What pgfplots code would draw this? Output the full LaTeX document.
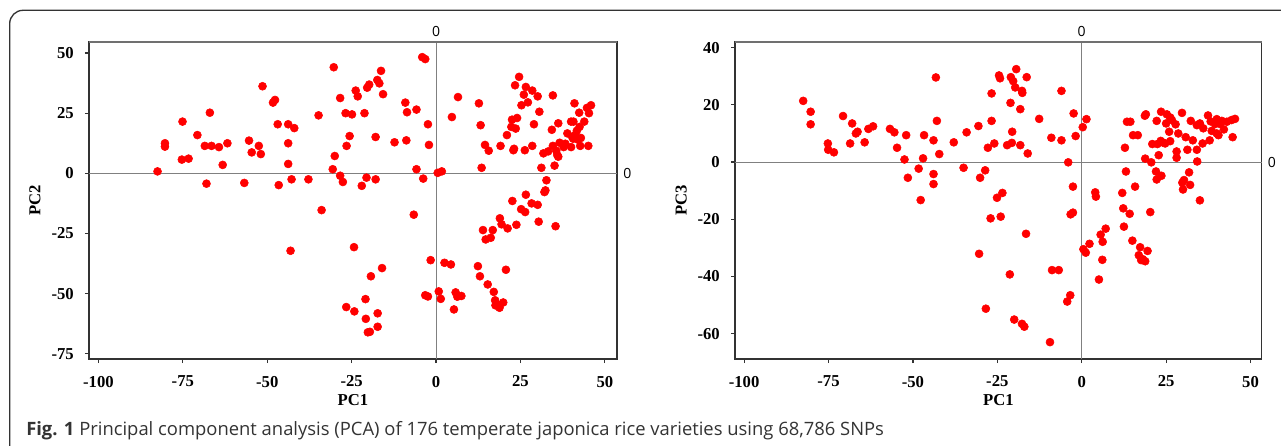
\documentclass[border=0pt]{standalone}
\usepackage{fontspec}
\setmainfont{Liberation Serif}
\newfontfamily\capfont{Open Sans}
\usepackage{pgfplots}
\pgfplotsset{compat=1.18}
\definecolor{dotred}{HTML}{FF0000}
\definecolor{zeroline}{HTML}{808080}
\definecolor{framecol}{HTML}{333333}

\pgfplotsset{
  pcastyle/.style={
    anchor=south west, scale only axis,
    width=396pt, height=237.75pt,
    clip=false,
    xtick={-100,-75,-50,-25,0,25,50},
    xticklabels={-100,-75,-50,-25,0,25,50},
    xtick pos=left, ytick pos=left,
    tick align=outside, major tick length=3pt,
    axis line style={framecol, line width=0.9pt},
    tick style={framecol, line width=0.9pt},
    ticklabel style={font=\bfseries\fontsize{12.5}{12.5}\selectfont, inner sep=0pt},
    xticklabel style={anchor=north, yshift=-9.5pt},
    yticklabel style={anchor=east, xshift=-8.25pt},
    label style={font=\bfseries\fontsize{12.5}{12.5}\selectfont},
    xlabel style={at={(axis description cs:0.5,-0.1293)}, anchor=center},
    ylabel style={at={(axis description cs:-0.1023,0.5)}, anchor=center},
  },
  dots/.style={only marks, mark=*, mark size=3pt, color=dotred, mark options={fill=dotred, draw=dotred}},
}

\begin{document}
\begin{tikzpicture}[x=0.75pt, y=0.75pt]
\path[use as bounding box] (0,0) rectangle (1281,446);
\draw[framecol, line width=1pt, rounded corners=10pt] (9.7,-10) -- (9.7,435.7) -- (1300,435.7);

% PC1 vs PC2
\begin{axis}[pcastyle, at={(66.75pt,65.25pt)},
  xmin=-102.8, xmax=53.6, ymin=-77.2, ymax=54.6,
  ytick={-75,-50,-25,0,25,50},
  yticklabels={-75,-50,-25,0,25,50},
  xlabel={PC1}, ylabel={PC2}]
\draw[zeroline, line width=0.8pt] (axis cs:0,-77.2) -- (axis cs:0,54.6);
\draw[zeroline, line width=0.8pt] (axis cs:-102.8,0) -- (axis cs:53.6,0);
\draw[framecol!70, line width=0.9pt] (axis cs:-102.8,54.6) -- (axis cs:53.6,54.6);
\node[anchor=base, inner sep=0pt, yshift=3.75pt, font=\capfont\fontsize{10.5}{10.5}\selectfont] at (axis cs:0,54.6) {0};
\node[anchor=west, inner sep=0pt, xshift=4.5pt, font=\capfont\fontsize{10.5}{10.5}\selectfont] at (axis cs:53.6,0) {0};
\addplot[dots] coordinates {
(-82.5,0.8) (-80.3,12.5) (-80.3,11.1) (-75.1,21.5) (-75.3,5.7) (-73.3,6.1)
(-70.7,15.9) (-67.0,25.2) (-68.5,11.4) (-66.5,11.4) (-64.3,10.9) (-61.8,12.5)
(-63.2,3.5) (-68.0,-4.3) (-56.8,-4.0) (-55.4,13.6) (-54.6,8.7) (-52.5,11.4)
(-51.9,8.0) (-51.4,36.2) (-48.3,29.4) (-47.7,30.5) (-46.9,20.4) (-46.6,-4.9)
(-43.8,20.4) (-42.0,18.8) (-43.8,12.5) (-43.8,3.9) (-42.8,-2.5) (-37.8,-2.5)
(-34.8,24.1) (-33.9,-15.3) (-43.1,-32.2) (-30.3,44.1) (-28.4,31.3) (-26.8,25.0)
(-24.9,24.5) (-23.8,34.4) (-23.2,32.0) (-21.2,25.0) (-20.4,35.6) (-19.8,36.9)
(-17.4,38.8) (-16.8,37.4) (-16.3,42.6) (-15.7,32.9) (-25.6,15.5) (-26.5,11.4)
(-30.0,7.2) (-30.6,1.7) (-28.4,-1.0) (-27.6,-3.6) (-22.0,-5.2) (-20.6,-1.8)
(-17.9,-2.5) (-17.9,15.1) (-12.3,12.9) (-9.1,29.4) (-8.6,25.4) (-5.8,26.5)
(-8.8,13.7) (-2.4,20.4) (-2.1,11.8) (-5.8,1.7) (-3.8,-2.2) (-6.6,-17.2)
(-4.1,48.3) (-3.2,47.5) (0.5,0.2) (1.7,0.8) (4.7,23.4) (6.5,31.7)
(12.7,29.1) (13.2,20.0) (13.5,2.3) (14.5,11.8) (15.6,9.4) (19.1,11.4)
(21.0,15.9) (22.3,19.3) (23.6,18.6) (22.5,22.3) (24.0,23.0) (22.9,9.6)
(23.1,10.2) (26.3,9.6) (28.5,11.4) (24.6,40.1) (23.4,36.6) (26.6,35.9)
(28.5,34.4) (26.0,32.7) (30.1,32.0) (27.2,29.5) (25.3,28.3) (30.6,25.6)
(34.6,32.4) (29.0,20.4) (34.3,18.1) (36.2,20.8) (38.9,16.6) (41.0,29.1)
(42.4,25.2) (43.9,21.5) (44.7,27.2) (45.9,28.3) (45.3,25.0) (40.0,21.5)
(40.7,21.5) (42.5,19.3) (41.7,17.7) (41.2,15.9) (40.3,15.2) (40.6,14.4)
(42.9,14.7) (42.0,14.0) (45.1,11.4) (42.7,11.4) (40.0,10.9) (38.3,12.3)
(37.8,10.9) (36.6,12.7) (34.6,11.4) (35.6,9.4) (35.9,7.6) (36.2,6.9)
(33.2,9.1) (31.8,8.3) (35.1,3.2) (31.2,2.3) (32.7,-2.9) (32.4,-7.1)
(32.1,-7.8) (26.6,-8.9) (28.3,-12.5) (30.1,-13.1) (22.6,-11.5) (25.2,-14.9)
(26.4,-16.1) (18.9,-18.7) (19.4,-21.2) (30.4,-20.1) (35.4,-22.0) (21.2,-22.9)
(16.8,-23.6) (13.9,-23.6) (23.8,-21.4) (14.7,-27.5) (16.2,-26.8) (-24.3,-30.7)
(-1.6,-36.1) (2.5,-37.2) (4.4,-37.9) (12.4,-38.6) (13.0,-42.8) (20.7,-40.1)
(15.3,-46.2) (17.1,-49.3) (17.5,-52.8) (18.0,-54.5) (18.8,-55.9) (19.9,-53.7)
(17.6,-54.9) (-16.0,-39.4) (-19.3,-42.8) (-20.9,-52.3) (-26.6,-55.6) (-24.2,-57.4)
(-17.3,-58.2) (-20.8,-60.5) (-17.3,-63.8) (-20.2,-66.1) (-19.6,-65.9) (-3.2,-50.7)
(-2.4,-51.2) (0.8,-49.1) (1.4,-52.2) (5.8,-49.5) (6.3,-51.3) (7.5,-51.0)
(5.3,-56.6)
};
\end{axis}

% PC1 vs PC3
\begin{axis}[pcastyle, at={(551.25pt,65.25pt)},
  width=395pt,
  xmin=-102.7, xmax=53.3, ymin=-68.9, ymax=42,
  ytick={-60,-40,-20,0,20,40},
  yticklabels={-60,-40,-20,0,20,40},
  xlabel={PC1}, ylabel={PC3}]
\draw[zeroline, line width=0.8pt] (axis cs:0,-68.9) -- (axis cs:0,42);
\draw[zeroline, line width=0.8pt] (axis cs:-102.7,0) -- (axis cs:53.3,0);
\draw[framecol!70, line width=0.9pt] (axis cs:-102.7,42) -- (axis cs:53.3,42);
\node[anchor=base, inner sep=0pt, yshift=3.75pt, font=\capfont\fontsize{10.5}{10.5}\selectfont] at (axis cs:0,42) {0};
\node[anchor=west, inner sep=0pt, xshift=4.5pt, font=\capfont\fontsize{10.5}{10.5}\selectfont] at (axis cs:53.3,0) {0};
\addplot[dots] coordinates {
(-82.5,21.4) (-80.3,17.6) (-80.3,13.2) (-75.2,6.5) (-75.1,4.3) (-73.4,3.4)
(-70.7,16.1) (-68.0,13.5) (-68.6,6.5) (-66.9,10.0) (-66.4,10.6) (-64.3,6.9)
(-63.2,11.6) (-61.8,12.5) (-56.8,11.6) (-55.5,10.4) (-54.7,5.0) (-52.0,9.4)
(-52.5,0.9) (-51.5,-5.5) (-48.3,-2.3) (-47.7,-13.3) (-46.7,9.4) (-47.0,1.3)
(-43.2,29.6) (-42.9,14.4) (-43.9,7.6) (-42.2,2.8) (-43.9,-4.2) (-43.9,-7.7)
(-37.9,6.9) (-35.0,-2.0) (-34.1,10.4) (-30.6,12.6) (-26.7,14.4) (-27.8,5.0)
(-25.9,6.5) (-28.6,-2.9) (-30.1,-5.5) (-26.7,24.0) (-24.5,30.3) (-24.2,29.3)
(-19.4,32.5) (-21.0,29.7) (-20.3,28.3) (-16.3,29.7) (-19.7,26.1) (-17.7,24.9)
(-17.6,24.2) (-21.1,20.7) (-18.2,18.5) (-12.6,15.1) (-20.6,10.6) (-22.1,5.9)
(-20.7,6.7) (-18.2,5.9) (-16.0,3.0) (-6.0,24.9) (-9.0,8.5) (-6.0,7.6)
(-2.4,17.0) (-1.8,9.1) (0.3,12.2) (1.4,15.0) (-4.0,-0.1) (-2.6,-8.6)
(-3.3,-18.3) (-2.6,-17.7) (-25.1,-12.5) (-23.5,-10.8) (-27.0,-19.7) (-24.0,-19.1)
(4.0,-10.6) (4.2,-12.1) (7.1,-23.3) (12.0,-10.8) (12.3,-16.2) (14.2,-18.1)
(12.5,-22.6) (15.8,-8.6) (20.3,-17.5) (13.1,-3.3) (12.8,5.0) (18.8,1.2)
(20.6,-0.1) (22.8,2.4) (22.0,-3.3) (22.2,-6.1) (23.6,-4.8) (28.1,3.7)
(28.1,1.5) (31.3,4.3) (34.1,4.3) (34.2,0.2) (31.8,-3.6) (29.8,-7.2)
(30.3,-6.3) (30.0,-9.6) (32.1,-8.0) (35.0,-13.4) (13.4,14.1) (14.4,14.1)
(15.2,9.4) (16.6,9.4) (18.7,16.2) (19.0,16.7) (22.2,14.4) (23.5,17.6)
(25.2,16.7) (26.2,15.6) (26.7,14.7) (25.0,13.5) (27.8,13.2) (29.7,17.2)
(25.9,10.6) (28.6,10.0) (20.9,6.3) (22.4,6.3) (23.4,7.4) (24.7,6.5)
(26.2,7.3) (23.9,6.9) (30.8,8.7) (32.9,7.6) (32.3,14.4) (34.1,12.9)
(35.0,13.5) (36.0,11.8) (37.4,16.3) (35.8,6.5) (37.9,7.6) (38.5,10.9)
(40.0,10.0) (40.5,9.4) (40.0,15.0) (41.5,14.4) (43.0,14.1) (44.4,14.7)
(45.4,15.1) (41.0,13.3) (39.5,13.3) (42.1,11.4) (44.7,8.7) (38.2,14.2)
(-16.5,-25.1) (5.6,-25.4) (2.3,-28.6) (6.2,-27.9) (0.5,-30.5) (1.2,-31.7)
(6.1,-34.2) (5.1,-41.1) (-6.8,-37.8) (-8.8,-37.8) (-3.4,-46.6) (-4.3,-48.8)
(15.0,-27.5) (17.3,-29.8) (19.5,-31.1) (16.9,-32.6) (18.1,-34.0) (18.8,-34.7)
(17.6,-34.3) (-30.4,-32.1) (-21.3,-39.3) (-28.4,-51.3) (-20.0,-55.1) (-17.7,-56.6)
(-17.0,-57.6) (-9.4,-63.0)
};
\end{axis}

\node[anchor=base west, inner sep=0pt, text=black!80] at (26,10.5)
  {\capfont\fontsize{13.8}{14}\selectfont\textbf{Fig. 1} Principal component analysis (PCA) of 176 temperate japonica rice varieties using 68,786 SNPs};
\end{tikzpicture}
\end{document}
